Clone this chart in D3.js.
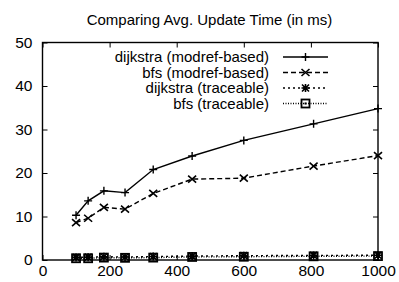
<!DOCTYPE html>
<html>
<head>
<meta charset="utf-8">
<script src="https://cdn.jsdelivr.net/npm/d3@7"></script>
<style>
  body { margin: 0; background: #fff; }
  svg { display: block; font-family: "Liberation Sans", Arial, sans-serif; }
</style>
</head>
<body>
<script>
let sizes = [100, 136, 183, 246, 330, 446, 600, 808, 1000]
let dijkstraModref = [10.3, 13.6, 15.9, 15.5, 20.8, 23.9, 27.5, 31.3, 34.8]
let bfsModref = [8.6, 9.6, 12.1, 11.7, 15.3, 18.6, 18.8, 21.6, 24.0]
let dijkstraTrace = [0.6, 0.65, 0.75, 0.7, 0.8, 0.9, 1.0, 1.05, 1.1]
let bfsTrace = [0.4, 0.4, 0.55, 0.5, 0.55, 0.7, 0.75, 0.85, 0.9]
let xTicks = [0, 200, 400, 600, 800, 1000]
let yTicks = [0, 10, 20, 30, 40, 50]
let names = ["dijkstra (modref-based)", "bfs (modref-based)", "dijkstra (traceable)", "bfs (traceable)"]

let w = 399, h = 282
let mLeft = 42.5, mRight = 378, mTop = 42.5, mBottom = 260

let svg = d3.select("body").append("svg")
    .attr("width", w)
    .attr("height", h)

let x = d3.scaleLinear().domain([0, 1000]).range([mLeft, mRight])
let y = d3.scaleLinear().domain([0, 50]).range([mBottom, mTop])

// title
svg.append("text")
    .attr("x", 209.5)
    .attr("y", 25)
    .attr("text-anchor", "middle")
    .attr("font-size", 15)
    .text("Comparing Avg. Update Time (in ms)")

// axes, ticks mirrored inward
let tl = 5
svg.append("g").attr("transform", `translate(0,${mBottom})`)
    .call(d3.axisBottom(x).tickValues(xTicks).tickSize(-tl).tickPadding(5).tickFormat(d3.format("d")))
svg.append("g").attr("transform", `translate(0,${mTop})`)
    .call(d3.axisTop(x).tickValues(xTicks).tickSize(-tl).tickFormat(""))
svg.append("g").attr("transform", `translate(${mLeft},0)`)
    .call(d3.axisLeft(y).tickValues(yTicks).tickSize(-tl).tickPadding(10))
svg.append("g").attr("transform", `translate(${mRight},0)`)
    .call(d3.axisRight(y).tickValues(yTicks).tickSize(-tl).tickFormat(""))
svg.selectAll(".domain").remove()
svg.selectAll(".tick line").attr("stroke", "#000").attr("stroke-width", 1)
svg.selectAll(".tick text")
    .attr("font-size", 15.5)
    .attr("fill", "#000")
    .attr("font-family", "Liberation Sans, Arial, sans-serif")

svg.append("rect")
    .attr("x", mLeft).attr("y", mTop)
    .attr("width", mRight - mLeft).attr("height", mBottom - mTop)
    .attr("fill", "none").attr("stroke", "#000").attr("stroke-width", 1.4)

// point markers
let plus = (g, cx, cy) => {
    g.append("path").attr("d", `M${cx - 4},${cy}H${cx + 4}M${cx},${cy - 4}V${cy + 4}`)
        .attr("stroke", "#000").attr("stroke-width", 1.4)
}
let cross = (g, cx, cy) => {
    g.append("path").attr("d", `M${cx - 4},${cy - 3.5}L${cx + 4},${cy + 3.5}M${cx - 4},${cy + 3.5}L${cx + 4},${cy - 3.5}`)
        .attr("stroke", "#000").attr("stroke-width", 1.6)
}
let star = (g, cx, cy) => {
    g.append("path").attr("d", `M${cx - 4},${cy}H${cx + 4}M${cx},${cy - 4}V${cy + 4}M${cx - 3.5},${cy - 3.5}L${cx + 3.5},${cy + 3.5}M${cx - 3.5},${cy + 3.5}L${cx + 3.5},${cy - 3.5}`)
        .attr("stroke", "#000").attr("stroke-width", 1.6)
}
let square = (g, cx, cy) => {
    g.append("rect").attr("x", cx - 4).attr("y", cy - 4).attr("width", 8).attr("height", 8)
        .attr("fill", "none").attr("stroke", "#000").attr("stroke-width", 1.8)
    g.append("rect").attr("x", cx - 1).attr("y", cy - 1).attr("width", 2).attr("height", 2).attr("fill", "#000")
}

let series = [
    {vals: dijkstraModref, dash: null, mark: plus},
    {vals: bfsModref, dash: "5,3", mark: cross},
    {vals: dijkstraTrace, dash: "2,3", mark: star},
    {vals: bfsTrace, dash: "1,1.5", mark: square}
]

let line = d3.line().x(d => x(d[0])).y(d => y(d[1]))

series.forEach(s => {
    let pts = sizes.map((v, i) => [v, s.vals[i]])
    svg.append("path")
        .datum(pts)
        .attr("d", line)
        .attr("fill", "none")
        .attr("stroke", "#000")
        .attr("stroke-width", 1.4)
        .attr("stroke-dasharray", s.dash)
    let g = svg.append("g")
    pts.forEach(p => s.mark(g, x(p[0]), y(p[1])))
})

// legend
let ly = [57, 72.5, 88, 103.5]
series.forEach((s, i) => {
    svg.append("text")
        .attr("x", 269)
        .attr("y", ly[i])
        .attr("dy", "0.35em")
        .attr("text-anchor", "end")
        .attr("font-size", 15)
        .text(names[i])
    svg.append("line")
        .attr("x1", 283).attr("x2", 328)
        .attr("y1", ly[i]).attr("y2", ly[i])
        .attr("stroke", "#000").attr("stroke-width", 1.4)
        .attr("stroke-dasharray", s.dash)
    s.mark(svg.append("g"), 305.5, ly[i])
})
</script>
</body>
</html>
